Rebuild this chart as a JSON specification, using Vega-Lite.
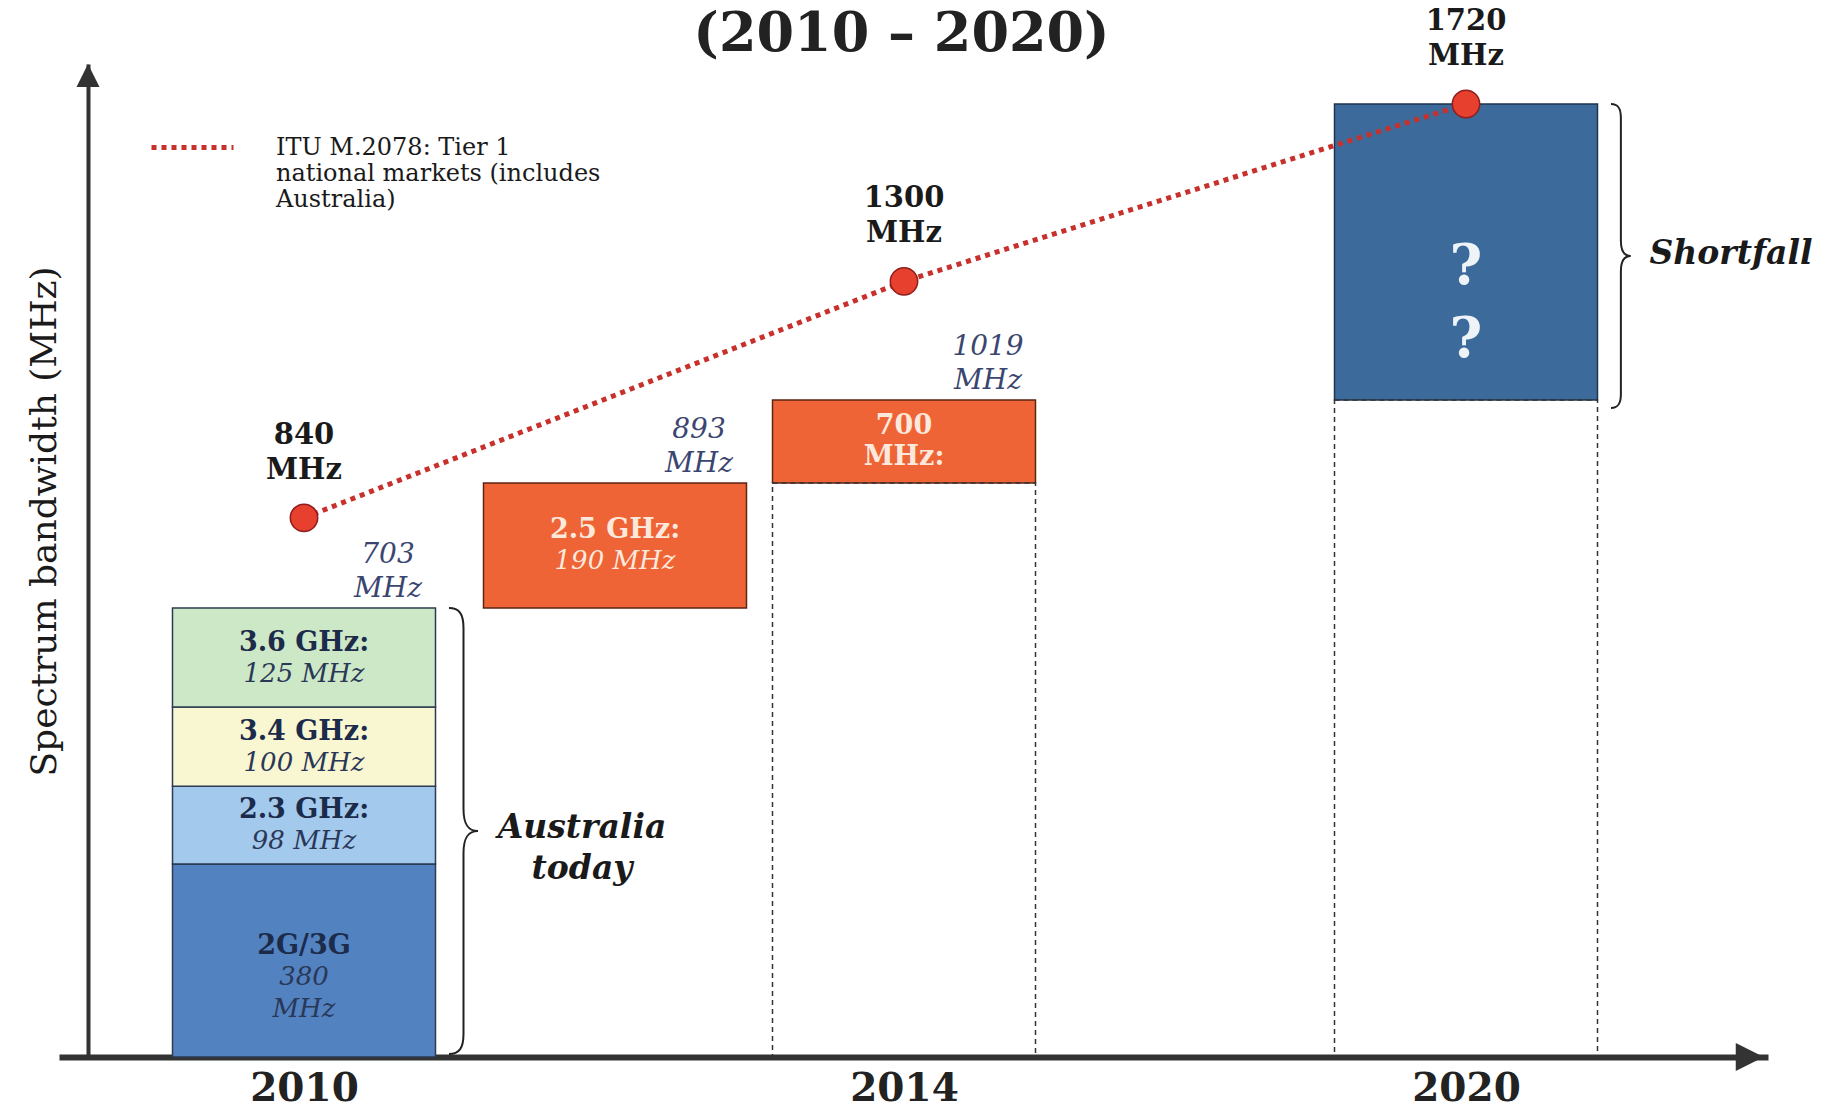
{
  "$schema": "https://vega.github.io/schema/vega-lite/v6.json",
  "width": 1709,
  "height": 993,
  "autosize": {"type": "none"},
  "padding": {"left": 59, "top": 64, "right": 67, "bottom": 52},
  "background": "white",
  "config": {
    "view": {"stroke": null},
    "font": "DejaVu Serif",
    "axisY": {"labels": false, "ticks": false, "grid": false, "domainColor": "#333333", "domainWidth": 4, "offset": -29, "titleFont": "DejaVu Serif", "titleFontSize": 36, "titleFontWeight": "normal", "titleColor": "#1a1a1a", "titleX": -44, "titleY": 457, "titleAngle": 270, "titleBaseline": "middle", "titleAlign": "center"}
  },
  "title": {"text": "(2010 – 2020)", "font": "DejaVu Serif", "fontSize": 54, "fontWeight": "bold", "color": "#222222", "anchor": "middle", "frame": "group", "dx": -12, "dy": 63, "offset": 8},
  "resolve": {"scale": {"color": "independent", "stroke": "independent", "size": "independent", "shape": "independent"}, "legend": {"color": "independent"}},
  "datasets": {
    "bands": [
      {"year": 2010, "band": "2G/3G", "lo": 0, "hi": 380, "label": "2G/3G", "sub": "380|MHz"},
      {"year": 2010, "band": "2.3 GHz", "lo": 380, "hi": 478, "label": "2.3 GHz:", "sub": "98 MHz"},
      {"year": 2010, "band": "3.4 GHz", "lo": 478, "hi": 578, "label": "3.4 GHz:", "sub": "100 MHz"},
      {"year": 2010, "band": "3.6 GHz", "lo": 578, "hi": 703, "label": "3.6 GHz:", "sub": "125 MHz"},
      {"year": 2012, "band": "2.5 GHz", "lo": 703, "hi": 893, "label": "2.5 GHz:", "sub": "190 MHz"},
      {"year": 2014, "band": "700 MHz", "lo": 893, "hi": 1019, "label": "700", "sub": "MHz:"},
      {"year": 2020, "band": "Shortfall", "lo": 1019, "hi": 1720, "label": "?|?", "sub": ""}
    ],
    "frames": [
      {"year": 2014, "lo": 0, "hi": 893},
      {"year": 2020, "lo": 0, "hi": 1019}
    ],
    "itu": [
      {"year": 2010, "need": 840, "lbl": "840 MHz", "series": "ITU M.2078: Tier 1 national markets (includes Australia)"},
      {"year": 2014, "need": 1300, "lbl": "1300 MHz", "series": "ITU M.2078: Tier 1 national markets (includes Australia)"},
      {"year": 2020, "need": 1720, "lbl": "1720 MHz", "series": "ITU M.2078: Tier 1 national markets (includes Australia)"}
    ],
    "totals": [
      {"year": 2010, "top": 703, "lbl": "703 MHz"},
      {"year": 2012, "top": 893, "lbl": "893 MHz"},
      {"year": 2014, "top": 1019, "lbl": "1019 MHz"}
    ],
    "notes": [
      {"year": 2010, "lo": 0, "hi": 703, "note": "Australia today"},
      {"year": 2020, "lo": 1019, "hi": 1720, "note": "Shortfall"}
    ],
    "arrows": [
      {"year": 2008.6, "v": 1815, "dir": "up"},
      {"year": 2023, "v": 0, "dir": "right"}
    ]
  },
  "encoding": {
    "x": {
      "field": "year",
      "type": "quantitative",
      "scale": {"domain": [2008.4, 2008.6, 2010, 2012, 2014, 2020, 2023], "range": [0, 29, 245, 556, 845, 1407, 1709], "nice": false, "zero": false},
      "axis": {"title": null, "values": [2010, 2014, 2020], "format": "d", "grid": false, "ticks": false, "domainColor": "#333333", "domainWidth": 6, "labelFont": "DejaVu Serif", "labelFontSize": 39, "labelFontWeight": "bold", "labelColor": "#222222", "labelPadding": 12, "labelFlush": false, "labelOverlap": false}
    }
  },
  "layer": [
    {
      "data": {"name": "bands"},
      "mark": {"type": "bar", "width": 263, "strokeWidth": 1.5},
      "encoding": {
        "y": {
          "field": "lo",
          "type": "quantitative",
          "title": "Spectrum bandwidth (MHz)",
          "scale": {"domain": [0, 380, 703, 1019, 1720, 1815], "range": [993, 800, 544, 336, 40, 0], "nice": false, "zero": false}
        },
        "y2": {"field": "hi"},
        "color": {"field": "band", "type": "nominal", "scale": {"domain": ["2G/3G", "2.3 GHz", "3.4 GHz", "3.6 GHz", "2.5 GHz", "700 MHz", "Shortfall"], "range": ["#5282c0", "#a3c9ec", "#f9f6d2", "#cde8c6", "#ee6436", "#ee6436", "#3c6b9b"]}, "legend": null},
        "stroke": {"field": "band", "type": "nominal", "scale": {"domain": ["2G/3G", "2.3 GHz", "3.4 GHz", "3.6 GHz", "2.5 GHz", "700 MHz", "Shortfall"], "range": ["#2d3a50", "#2d3a50", "#2d3a50", "#2d3a50", "#5e2414", "#5e2414", "#1e3550"]}, "legend": null}
      }
    },
    {
      "data": {"name": "frames"},
      "mark": {"type": "bar", "width": 263, "fill": "white", "fillOpacity": 0, "stroke": "#333333", "strokeWidth": 1.5, "strokeDash": [5, 4]},
      "encoding": {"y": {"field": "lo", "type": "quantitative", "title": "Spectrum bandwidth (MHz)"}, "y2": {"field": "hi"}}
    },
    {
      "data": {"name": "bands"},
      "transform": [
        {"fold": ["lo", "hi"], "as": ["edge", "v"]},
        {"aggregate": [{"op": "mean", "field": "v", "as": "mid"}], "groupby": ["year", "band", "label", "sub"]},
        {"filter": "datum.band != 'Shortfall'"}
      ],
      "mark": {"type": "text", "font": "DejaVu Serif", "fontSize": 27, "fontWeight": "bold", "baseline": "bottom", "align": "center", "dy": -1},
      "encoding": {
        "y": {"field": "mid", "type": "quantitative", "title": "Spectrum bandwidth (MHz)"},
        "text": {"field": "label"},
        "color": {"condition": {"test": "datum.year == 2010", "value": "#1c2b4a"}, "value": "#fde8dc"}
      }
    },
    {
      "data": {"name": "bands"},
      "transform": [
        {"fold": ["lo", "hi"], "as": ["edge", "v"]},
        {"aggregate": [{"op": "mean", "field": "v", "as": "mid"}], "groupby": ["year", "band", "label", "sub"]},
        {"filter": "datum.band != '700 MHz' && datum.band != 'Shortfall'"}
      ],
      "mark": {"type": "text", "font": "DejaVu Serif", "fontSize": 26, "fontStyle": "italic", "baseline": "top", "align": "center", "dy": 3, "lineHeight": 32, "lineBreak": "|"},
      "encoding": {
        "y": {"field": "mid", "type": "quantitative", "title": "Spectrum bandwidth (MHz)"},
        "text": {"field": "sub"},
        "color": {"condition": {"test": "datum.year == 2010", "value": "#2a3858"}, "value": "#fde8dc"}
      }
    },
    {
      "data": {"name": "bands"},
      "transform": [
        {"fold": ["lo", "hi"], "as": ["edge", "v"]},
        {"aggregate": [{"op": "mean", "field": "v", "as": "mid"}], "groupby": ["year", "band", "label", "sub"]},
        {"filter": "datum.band == '700 MHz'"}
      ],
      "mark": {"type": "text", "font": "DejaVu Serif", "fontSize": 27, "fontWeight": "bold", "baseline": "top", "align": "center", "dy": 3, "color": "#fde8dc"},
      "encoding": {
        "y": {"field": "mid", "type": "quantitative", "title": "Spectrum bandwidth (MHz)"},
        "text": {"field": "sub"}
      }
    },
    {
      "data": {"name": "bands"},
      "transform": [
        {"fold": ["lo", "hi"], "as": ["edge", "v"]},
        {"aggregate": [{"op": "mean", "field": "v", "as": "mid"}], "groupby": ["year", "band", "label", "sub"]},
        {"filter": "datum.band == 'Shortfall'"}
      ],
      "mark": {"type": "text", "font": "DejaVu Serif", "fontSize": 56, "fontWeight": "bold", "baseline": "middle", "align": "center", "dy": 15, "lineHeight": 73, "lineBreak": "|", "color": "#eef3f8"},
      "encoding": {
        "y": {"field": "mid", "type": "quantitative", "title": "Spectrum bandwidth (MHz)"},
        "text": {"field": "label"}
      }
    },
    {
      "data": {"name": "itu"},
      "mark": {"type": "line", "strokeDash": [5, 5], "strokeWidth": 5},
      "encoding": {
        "y": {"field": "need", "type": "quantitative", "title": "Spectrum bandwidth (MHz)"},
        "color": {
          "field": "series",
          "type": "nominal",
          "scale": {"range": ["#c8302c"]},
          "legend": {"orient": "none", "legendX": 90, "legendY": 40, "title": null, "symbolType": "stroke", "symbolSize": 6724, "symbolStrokeWidth": 5, "symbolDash": [5, 5], "labelFont": "DejaVu Serif", "labelFontSize": 24, "labelColor": "#1a1a1a", "labelLimit": 0, "labelOffset": 40, "padding": 0, "labelExpr": "['ITU M.2078: Tier 1', 'national markets (includes', 'Australia)']"}
        }
      }
    },
    {
      "data": {"name": "itu"},
      "mark": {"type": "point", "shape": "circle", "filled": true, "size": 750, "fill": "#e8402f", "stroke": "#8f1d1d", "strokeWidth": 1.5, "opacity": 1},
      "encoding": {"y": {"field": "need", "type": "quantitative", "title": "Spectrum bandwidth (MHz)"}}
    },
    {
      "data": {"name": "itu"},
      "mark": {"type": "text", "font": "DejaVu Serif", "fontSize": 29, "fontWeight": "bold", "baseline": "bottom", "align": "center", "dy": -68, "lineHeight": 35, "lineBreak": " ", "color": "#1a1a1a"},
      "encoding": {"y": {"field": "need", "type": "quantitative", "title": "Spectrum bandwidth (MHz)"}, "text": {"field": "lbl"}}
    },
    {
      "data": {"name": "totals"},
      "mark": {"type": "text", "font": "DejaVu Serif", "fontSize": 28, "fontStyle": "italic", "baseline": "bottom", "align": "center", "dx": 84, "dy": -39, "lineHeight": 34, "lineBreak": " ", "color": "#3a4670"},
      "encoding": {"y": {"field": "top", "type": "quantitative", "title": "Spectrum bandwidth (MHz)"}, "text": {"field": "lbl"}}
    },
    {
      "data": {"name": "notes"},
      "mark": {"type": "point", "shape": "M0,0 C0.045,0 0.065,0.025 0.065,0.09 L0.065,0.9 C0.065,0.97 0.085,1 0.13,1 C0.085,1 0.065,1.03 0.065,1.1 L0.065,1.91 C0.065,1.975 0.045,2 0,2", "filled": false, "stroke": "#222222", "strokeWidth": 2, "opacity": 1, "xOffset": 145},
      "encoding": {
        "y": {"field": "hi", "type": "quantitative", "title": "Spectrum bandwidth (MHz)"},
        "size": {"field": "note", "type": "nominal", "scale": {"domain": ["Australia today", "Shortfall"], "range": [198916, 92416]}, "legend": null}
      }
    },
    {
      "data": {"name": "notes"},
      "transform": [
        {"fold": ["lo", "hi"], "as": ["edge", "v"]},
        {"aggregate": [{"op": "mean", "field": "v", "as": "mid"}], "groupby": ["year", "note"]},
        {"filter": "datum.note == 'Australia today'"}
      ],
      "mark": {"type": "text", "font": "DejaVu Serif", "fontSize": 33, "fontWeight": "bold", "fontStyle": "italic", "baseline": "middle", "align": "center", "dx": 278, "dy": -50, "lineHeight": 41, "lineBreak": " ", "color": "#1a1a1a"},
      "encoding": {"y": {"field": "mid", "type": "quantitative", "title": "Spectrum bandwidth (MHz)"}, "text": {"field": "note"}}
    },
    {
      "data": {"name": "notes"},
      "transform": [
        {"fold": ["lo", "hi"], "as": ["edge", "v"]},
        {"aggregate": [{"op": "mean", "field": "v", "as": "mid"}], "groupby": ["year", "note"]},
        {"filter": "datum.note == 'Shortfall'"}
      ],
      "mark": {"type": "text", "font": "DejaVu Serif", "fontSize": 33, "fontWeight": "bold", "fontStyle": "italic", "baseline": "middle", "align": "center", "dx": 265, "dy": 2, "color": "#1a1a1a"},
      "encoding": {"y": {"field": "mid", "type": "quantitative", "title": "Spectrum bandwidth (MHz)"}, "text": {"field": "note"}}
    },
    {
      "data": {"name": "arrows"},
      "mark": {"type": "point", "filled": true, "color": "#333333", "opacity": 1},
      "encoding": {
        "y": {"field": "v", "type": "quantitative", "title": "Spectrum bandwidth (MHz)"},
        "shape": {"field": "dir", "type": "nominal", "scale": {"domain": ["up", "right"], "range": ["M0,0 L-0.5,1 L0.5,1 Z", "M0,0 L-1,-0.5 L-1,0.5 Z"]}, "legend": null},
        "size": {"field": "dir", "type": "nominal", "scale": {"domain": ["up", "right"], "range": [2116, 3136]}, "legend": null}
      }
    }
  ]
}
